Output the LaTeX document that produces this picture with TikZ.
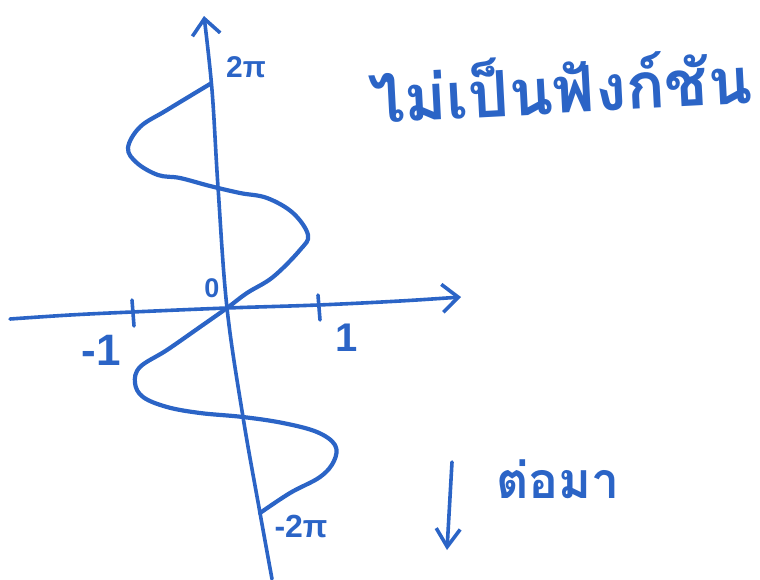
\documentclass[tikz,border=0pt]{standalone}
\usepackage{fontspec}
\setmainfont{Liberation Sans}
\newfontfamily\thaifont[Script=Thai]{Loma}
\usetikzlibrary{arrows.meta}
\definecolor{cink}{HTML}{2B64C6}
\tikzset{
  ink/.style={draw=cink, line width=3.6pt, line cap=round, line join=round},
  axisln/.style={ink, -{Straight Barb[length=16pt,width=28pt]}},
  curveln/.style={ink, line width=4.2pt},
  num/.style={text=cink, inner sep=0pt, font=\bfseries\fontsize{30}{30}\selectfont},
  note/.style={text=cink, inner sep=0pt, font=\thaifont\bfseries\fontsize{64}{64}\selectfont}
}

\begin{document}
\begin{tikzpicture}[x=1pt,y=-1pt]
\useasboundingbox (0,0) rectangle (760,579);

% axes
\coordinate (O) at (227,308);
\draw[axisln] plot[smooth, tension=0.6] coordinates
  {(10,319) (70,315) (132,312) (O) (318,305) (400,301) (461,297)};
\draw[axisln] plot[smooth, tension=0.6] coordinates
  {(272,579) (260,513) (243,417) (O) (218,187) (212,90) (204,16)};
\draw[ink] (132,300) -- (134,326);
\draw[ink] (318,295) -- (320,320);

% x = sin y
\draw[curveln] plot[smooth, tension=0.6] coordinates
  {(210,84) (167,110) (140,127) (128,148) (137,163) (158,175) (180,178)
   (210,186) (240,193) (267,198) (293,213) (308,235) (300,250) (273,277)
   (247,293) (O) (200,327) (167,350) (140,367) (135,383) (143,397)
   (167,407) (200,413) (243,417) (283,423) (317,432) (335,445) (334,461)
   (320,477) (290,493) (260,513)};

% labels
\node[num, font=\bfseries\fontsize{27}{27}\selectfont] (lzero) at (212,288) {0};
\node[num, font=\bfseries\fontsize{44}{44}\selectfont] (lmone) at (101,350) {-1};
\node[num, font=\bfseries\fontsize{40}{40}\selectfont] (lone) at (347,338) {1};
\node[num] (ltwopi) at (246,67) {2π};
\node[num, font=\bfseries\fontsize{32}{32}\selectfont] (lmtwopi) at (301,526) {-2π};

\node[note, rotate=3] (title) at (560,84) {ไม่เป็นฟังก์ชัน};
\node[note, font=\thaifont\bfseries\fontsize{50}{50}\selectfont] (next) at (558,479) {ต่อมา};
\coordinate (arrtop) at (452,462);
\coordinate (arrbot) at (447,550);
\draw[ink, -{Straight Barb[length=18pt,width=24pt]}] (arrtop) -- (arrbot);

\end{tikzpicture}
\end{document}
